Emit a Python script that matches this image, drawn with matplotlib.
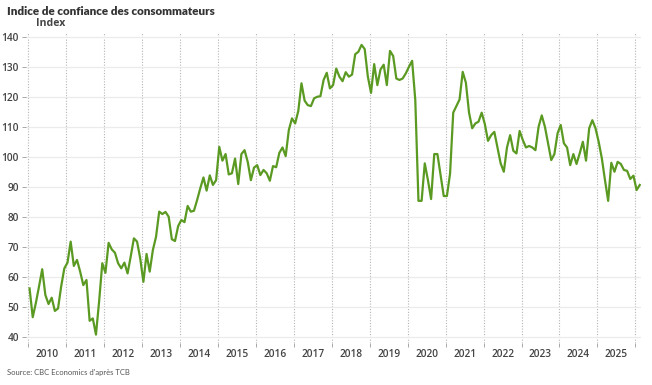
import numpy as np
import matplotlib.pyplot as plt

# Conference Board consumer confidence, monthly from Jan 2010
y2010 = [56.3, 46.7, 51.5, 57.0, 62.7, 54.1, 51.1, 53.2, 48.8, 49.6, 57.0, 63.0]
y2011 = [64.9, 71.9, 63.8, 65.8, 61.9, 57.4, 59.1, 45.5, 46.3, 40.9, 52.0, 64.7]
y2012 = [61.5, 71.5, 69.3, 68.2, 64.7, 63.0, 64.9, 61.3, 67.0, 73.0, 71.9, 66.3]
y2013 = [58.5, 67.8, 61.9, 69.1, 73.5, 81.9, 81.1, 81.8, 80.2, 72.7, 72.1, 77.1]
y2014 = [79.1, 78.4, 83.8, 81.9, 82.2, 85.8, 89.7, 93.3, 88.9, 94.0, 90.8, 92.4]
y2015 = [103.5, 98.9, 101.1, 94.3, 94.7, 99.6, 91.1, 101.1, 102.4, 98.5, 92.4, 96.6]
y2016 = [97.4, 94.1, 95.8, 94.7, 92.2, 97.1, 96.7, 101.5, 103.3, 100.4, 109.1, 113.0]
y2017 = [111.3, 115.5, 124.7, 118.9, 117.4, 117.1, 119.7, 120.2, 120.4, 125.8, 128.2, 123.0]
y2018 = [124.1, 129.6, 126.9, 125.4, 128.4, 126.9, 127.6, 134.4, 135.2, 137.5, 136.1, 126.9]
y2019 = [121.5, 131.1, 124.1, 129.3, 130.9, 124.1, 135.5, 133.8, 126.3, 125.8, 126.3, 128.0]
y2020 = [130.2, 132.2, 119.1, 85.5, 85.5, 98.0, 92.4, 86.1, 101.1, 101.1, 94.1, 87.1]
y2021 = [87.1, 94.6, 114.9, 117.1, 119.3, 128.5, 124.9, 114.9, 109.7, 111.3, 111.9, 114.9]
y2022 = [111.1, 105.5, 107.4, 108.5, 103.3, 98.0, 95.2, 103.3, 107.4, 102.2, 101.3, 108.8]
y2023 = [105.8, 103.3, 103.8, 103.3, 102.4, 110.2, 114.0, 110.2, 104.7, 99.1, 101.1, 108.0]
y2024 = [110.8, 104.7, 103.3, 97.4, 101.1, 97.8, 101.3, 105.2, 98.9, 109.7, 112.4, 109.7]
y2025 = [105.2, 99.7, 92.4, 85.5, 98.2, 95.2, 98.5, 97.8, 95.8, 95.5, 92.8, 93.9]
y2026 = [89.1, 90.8]

values = (y2010 + y2011 + y2012 + y2013 + y2014 + y2015 + y2016 + y2017 + y2018
          + y2019 + y2020 + y2021 + y2022 + y2023 + y2024 + y2025 + y2026)
years = list(range(2010, 2026))
yticks = [40, 50, 60, 70, 80, 90, 100, 110, 120, 130, 140]

x = 2010 + (np.arange(len(values)) + 0.4) / 12

plt.rcParams['font.family'] = ['Open Sans', 'DejaVu Sans']

fig = plt.figure(figsize=(6.52, 3.85), dpi=100)
ax = fig.add_axes([26/652, 1 - 343.3/385, (641-26)/652, (343.3-32)/385])

ax.plot(x, values, color='#5b9a22', lw=1.6, solid_joinstyle='round', zorder=3)

ax.set_xlim(2010 + (26 - 28.3)/37.94, 2010 + (641 - 28.3)/37.94)
ax.set_ylim(38, 141.8)

# horizontal grid
ax.set_yticks(yticks)
ax.set_yticklabels([str(v) for v in yticks], fontsize=7.3, color='#444444', fontweight='semibold')
ax.grid(axis='y', color='#ebebeb', lw=0.9, zorder=0)
ax.tick_params(axis='y', length=3, width=0.6, color='#999999', pad=2)

# year boundaries: dotted lines + small ticks, labels between
bounds = list(range(2010, 2027))
for b in bounds:
    ax.axvline(b, color='#b5b5b5', lw=0.8, ls=(0, (1, 1.5)), zorder=1)
ax.set_xticks(bounds)
ax.set_xticklabels([])
ax.tick_params(axis='x', which='major', length=3, width=0.6, color='#999999')
ax.set_xticks([y + 0.5 for y in years], minor=True)
ax.set_xticklabels([str(y) for y in years], minor=True, fontsize=7.3,
                   color='#444444', fontweight='semibold')
ax.tick_params(axis='x', which='minor', length=0, pad=4)

for s in ax.spines.values():
    s.set_visible(False)

fig.text(7/652, 1 - 11.5/385, 'Indice de confiance des consommateurs', fontsize=8.4,
         fontweight='heavy', color='#333333', va='center', ha='left', family=['Lato', 'DejaVu Sans'])
fig.text(36/652, 1 - 23.5/385, 'Index', fontsize=7.6, fontweight='bold',
         color='#444444', va='center', ha='left')
fig.text(7/652, 1 - 372/385, "Source: CBC Economics d'après TCB", fontsize=5.5,
         color='#555555', va='center', ha='left', family=['Lato', 'DejaVu Sans'])

fig.savefig('out.png', dpi=100)
